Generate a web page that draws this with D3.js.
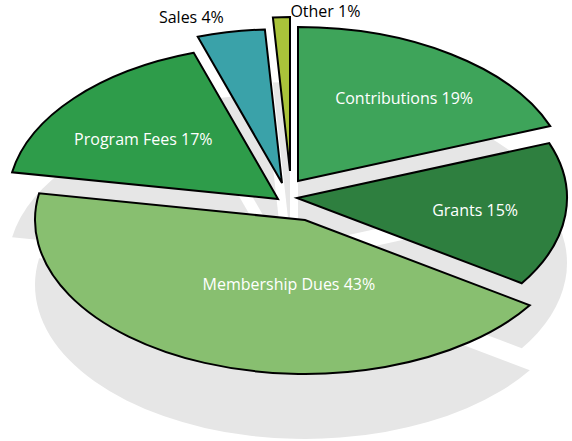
<!DOCTYPE html>
<html>
<head>
<meta charset="utf-8">
<script src="https://cdn.jsdelivr.net/npm/d3@7"></script>
<style>
  body { margin: 0; background: #fff; }
  svg { display: block; }
  .slice { stroke: #000; stroke-width: 2px; stroke-linejoin: miter; }
  .label { font-family: 'Open Sans', sans-serif; font-size: 16px; }
</style>
</head>
<body>
<svg id="chart" width="572" height="441"></svg>
<script>
// data
const categories = ['Contributions', 'Grants', 'Membership Dues', 'Program Fees', 'Sales', 'Other'];
const shares = [19, 15, 43, 17, 4, 1];
const colors = ['#3ea45a', '#2e7f3f', '#88bf70', '#2e9c4a', '#3aa2a9', '#aac43a'];

// layout
const width = 572, height = 441;
const cx = 290, cy = 195;
const radius = 270;
const squash = 0.57;          // vertical tilt of the pie
const shadowDrop = 65;        // grey copy under the pie
// explode offset of each slice, in px
const explode = [[8, -14], [7, 3], [15, 25], [-12, 4], [-8, -12], [0, -24]];
// label: radius fraction along mid angle, then nudge, colour, anchor
const labelSpec = [
  {r: 0.68, dx: 2, dy: 4, fill: '#fff', anchor: 'middle'},
  {r: 0.66, dx: 1, dy: 1, fill: '#fff', anchor: 'middle'},
  {r: 0.42, dx: 26, dy: 4, fill: '#fff', anchor: 'middle'},
  {r: 0.66, dx: 0, dy: 7, fill: '#fff', anchor: 'middle'},
  {r: 1.12, dx: -1, dy: 4, fill: '#000', anchor: 'end'},
  {r: 1.12, dx: 10, dy: 13, fill: '#000', anchor: 'start'}
];

let rows = categories.map(function(c, i) {
  return {name: c, value: shares[i], color: colors[i], off: explode[i], lab: labelSpec[i]};
});

let pie = d3.pie()
  .sort(null)
  .value(function(d) { return d.value; });

let arc = d3.arc()
  .innerRadius(0)
  .outerRadius(radius);

let arcs = pie(rows);

let svg = d3.select('#chart');

// shadow
let shadow = svg.append('g').attr('class', 'shadow');
shadow.selectAll('path')
  .data(arcs)
  .enter().append('path')
  .attr('transform', function(d) {
    return 'translate(' + (cx + d.data.off[0]) + ',' + (cy + d.data.off[1] + shadowDrop) + ') scale(1,' + squash + ')';
  })
  .attr('d', arc)
  .attr('fill', '#e6e6e6');

// slices
let slices = svg.append('g').attr('class', 'slices');
slices.selectAll('path')
  .data(arcs)
  .enter().append('path')
  .attr('class', 'slice')
  .attr('transform', function(d) {
    return 'translate(' + (cx + d.data.off[0]) + ',' + (cy + d.data.off[1]) + ') scale(1,' + squash + ')';
  })
  .attr('vector-effect', 'non-scaling-stroke')
  .attr('d', arc)
  .attr('fill', function(d) { return d.data.color; });

// labels
svg.append('g').attr('class', 'labels')
  .selectAll('text')
  .data(arcs)
  .enter().append('text')
  .attr('class', 'label')
  .attr('x', function(d) {
    let a = (d.startAngle + d.endAngle) / 2;
    return cx + d.data.off[0] + Math.sin(a) * radius * d.data.lab.r + d.data.lab.dx;
  })
  .attr('y', function(d) {
    let a = (d.startAngle + d.endAngle) / 2;
    return cy + d.data.off[1] - Math.cos(a) * radius * d.data.lab.r * squash + d.data.lab.dy;
  })
  .attr('dy', '0.35em')
  .attr('text-anchor', function(d) { return d.data.lab.anchor; })
  .attr('fill', function(d) { return d.data.lab.fill; })
  .text(function(d) { return d.data.name + ' ' + d.data.value + '%'; });
</script>
</body>
</html>
